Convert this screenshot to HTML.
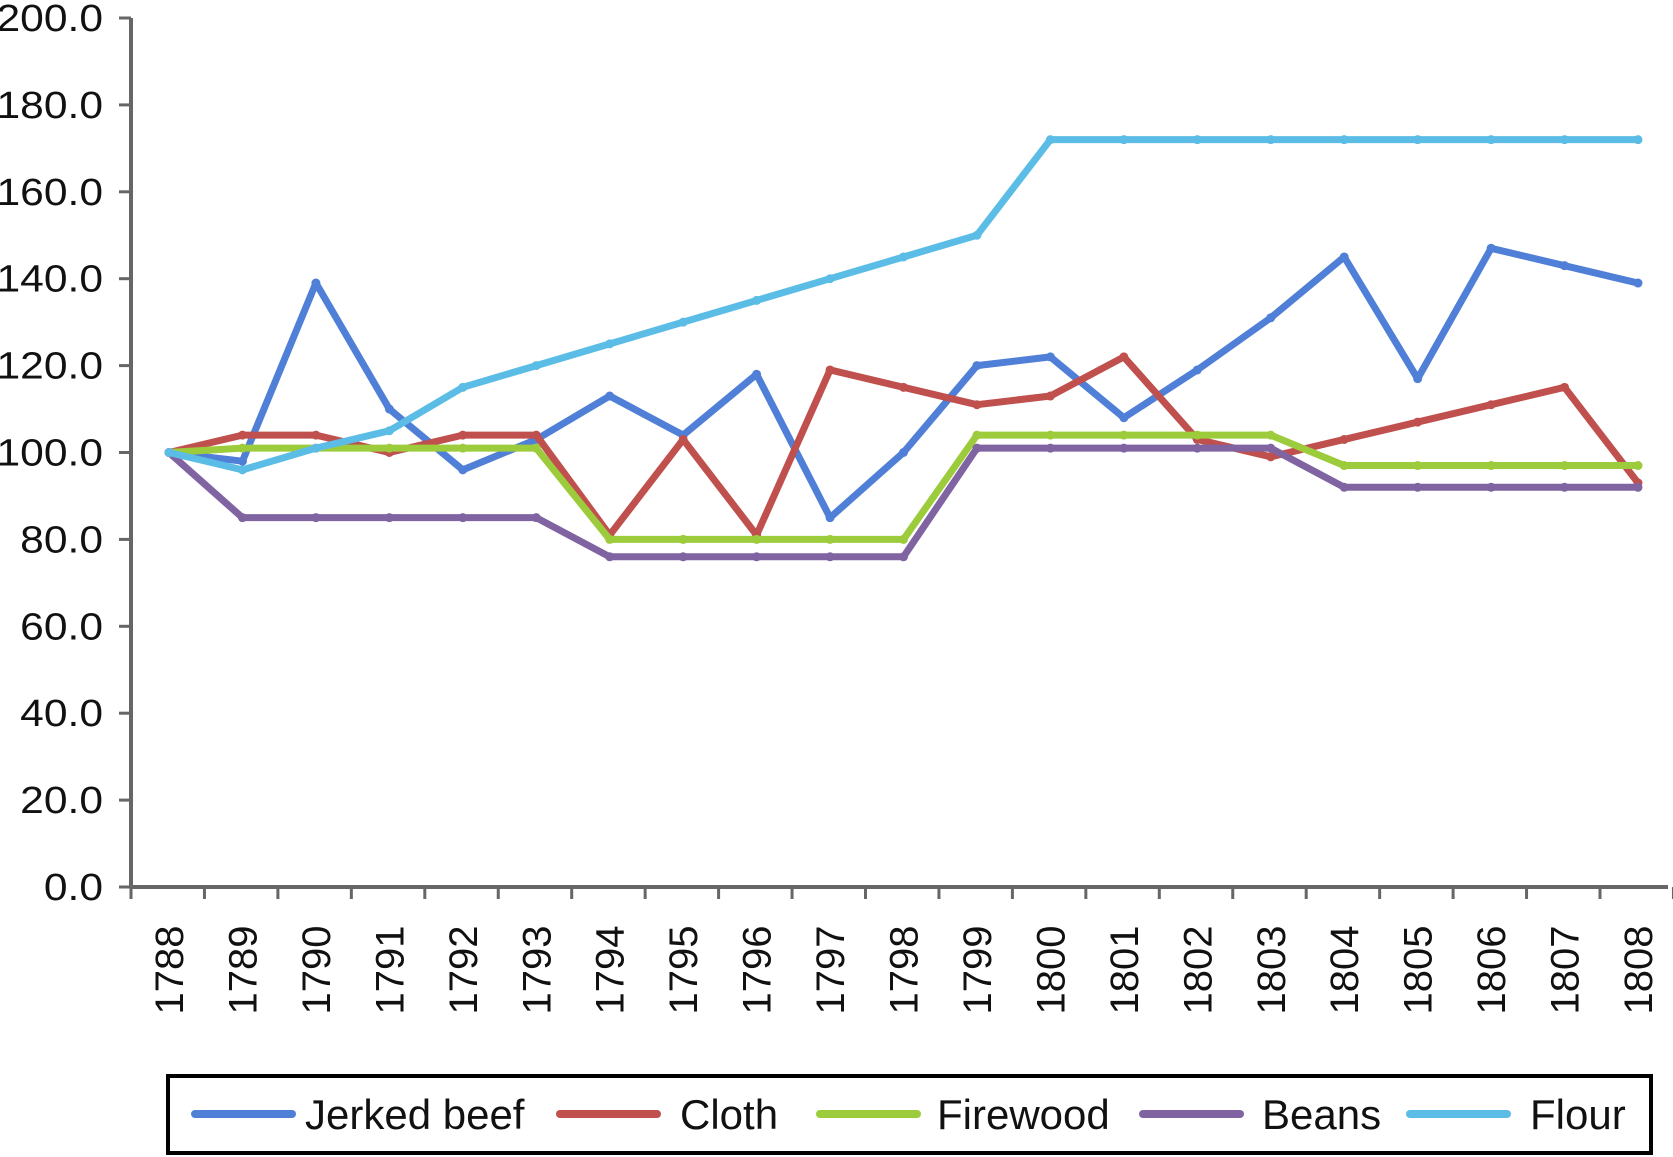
<!DOCTYPE html>
<html><head><meta charset="utf-8"><style>
html,body{margin:0;padding:0;background:#fff;}
svg{display:block;font-family:"Liberation Sans",sans-serif;}
</style></head><body>
<svg id="chart" width="1673" height="1157" viewBox="0 0 1673 1157">
<g id="axes"></g><g id="series"></g><g id="legend"></g>
</svg>
<script>
const years=["1788","1789","1790","1791","1792","1793","1794","1795","1796","1797","1798","1799","1800","1801","1802","1803","1804","1805","1806","1807","1808"];
const yTicks=[0,20,40,60,80,100,120,140,160,180,200];
const jerkedBeef=[100,98,139,110,96,103,113,104,118,85,100,120,122,108,119,131,145,117,147,143,139];
const cloth=[100,104,104,100,104,104,81,103,81,119,115,111,113,122,103,99,103,107,111,115,93];
const firewood=[100,101,101,101,101,101,80,80,80,80,80,104,104,104,104,104,97,97,97,97,97];
const beans=[100,85,85,85,85,85,76,76,76,76,76,101,101,101,101,101,92,92,92,92,92];
const flour=[100,96,101,105,115,120,125,130,135,140,145,150,172,172,172,172,172,172,172,172,172];
const seriesNames=["Jerked beef","Cloth","Firewood","Beans","Flour"];
const seriesData=[jerkedBeef,cloth,firewood,beans,flour];
const colors=["#4f7fd6","#c0504d","#9ccc3c","#8064a2","#5bbde6"];
const NS="http://www.w3.org/2000/svg";
const X0=131,X1=1668,Y0=887,Y1=18,PX0=169,PX1=1638;
function xs(i){return PX0+(PX1-PX0)*i/(years.length-1);}
function ys(v){return Y0-(Y0-Y1)*v/200;}
function mk(tag,attrs,parent){const e=document.createElementNS(NS,tag);for(const k in attrs)e.setAttribute(k,attrs[k]);parent.appendChild(e);return e;}
const axes=document.getElementById('axes');
let a=mk('line',{x1:X0,y1:Y1,x2:X0,y2:Y0,stroke:'#666','stroke-width':4},axes);


a=mk('line',{x1:X0,y1:Y0,x2:X1,y2:Y0,stroke:'#666','stroke-width':4},axes);


yTicks.forEach(v=>{
  const y=ys(v);
  mk('line',{x1:X0-12,y1:y,x2:X0,y2:y,stroke:'#666','stroke-width':3},axes);
  const t=mk('text',{x:X0-28,y:y+13,'text-anchor':'end','font-size':38,fill:'#111','transform':`translate(${X0-28},0) scale(1.12,1) translate(${-(X0-28)},0)`},axes);
  t.textContent=v.toFixed(1);
  
  
});
const step=(PX1-PX0)/(years.length-1);
for(let i=0;i<=years.length;i++){
  const x=X0+step*i;
  mk('line',{x1:x,y1:Y0,x2:x,y2:Y0+12,stroke:'#666','stroke-width':3},axes);
}
years.forEach((yr,i)=>{
  const x=xs(i);
  const t=mk('text',{x:0,y:0,'text-anchor':'middle','font-size':40,fill:'#111',transform:`translate(${x+14},970) rotate(-90)`},axes);
  t.textContent=yr;
  
  
});
const sg=document.getElementById('series');
seriesData.forEach((d,s)=>{
  const p=mk('polyline',{points:d.map((v,i)=>xs(i)+','+ys(v)).join(' '),fill:'none',stroke:colors[s],'stroke-width':7,'stroke-linejoin':'round'},sg);
  
  
  d.forEach((v,i)=>{
    const c=mk('circle',{cx:xs(i),cy:ys(v),r:4.5,fill:colors[s]},sg);
    
    
  });
});
const lg=document.getElementById('legend');
const box=mk('rect',{x:168,y:1076,width:1483,height:77,fill:'#fff',stroke:'#000','stroke-width':4},lg);


const lx=[195,560,820,1143,1410],tx=[305,680,937,1262,1530];
seriesNames.forEach((n,s)=>{
  const l=mk('line',{x1:lx[s],y1:1114,x2:lx[s]+97,y2:1114,stroke:colors[s],'stroke-width':8,'stroke-linecap':'round'},lg);
  
  
  const t=mk('text',{x:tx[s],y:1129,'font-size':42,fill:'#111','font-family':'"Liberation Sans Narrow","Liberation Sans",sans-serif'},lg);
  t.textContent=n;
  
  
});
</script>
</body></html>
